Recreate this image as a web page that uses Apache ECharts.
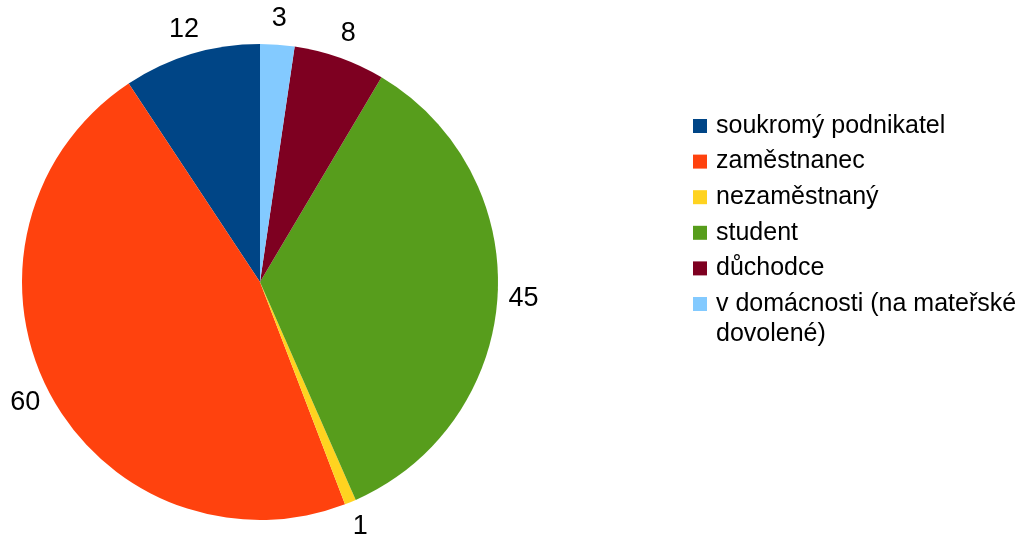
<!DOCTYPE html>
<html>
<head>
<meta charset="utf-8">
<script src="https://cdn.jsdelivr.net/npm/echarts@6/dist/echarts.min.js"></script>
<style>
  html, body { margin: 0; padding: 0; background: #fff; }
  #chart { width: 1033px; height: 540px; }
</style>
</head>
<body>
<div id="chart"></div>
<script>
var categories = ['soukromý podnikatel', 'zaměstnanec', 'nezaměstnaný', 'student', 'důchodce', 'v domácnosti (na mateřské dovolené)'];
var legendLabels = ['soukromý podnikatel', 'zaměstnanec', 'nezaměstnaný', 'student', 'důchodce', 'v domácnosti (na mateřské'];
var legendTail = 'dovolené)';
var values = [12, 60, 1, 45, 8, 3];
var colors = ['#004586', '#ff420e', '#ffd320', '#579d1c', '#7e0021', '#83caff'];

var fontFamily = 'Liberation Sans, Arial, sans-serif';

var data = categories.map(function (name, i) {
    return { name: name, value: values[i], itemStyle: { color: colors[i] } };
});
// same slices, invisible, only used to place the value labels just outside the pie
var labelData = categories.map(function (name, i) {
    return { name: name, value: values[i] };
});

var chart = echarts.init(document.getElementById('chart'));
chart.setOption({
    animation: false,
    textStyle: { fontFamily: fontFamily },
    legend: {
        orient: 'vertical',
        left: 688,
        top: 106,
        itemWidth: 14,
        itemHeight: 14,
        itemGap: 5.6,
        icon: 'rect',
        selectedMode: false,
        textStyle: { fontSize: 25, color: '#000', lineHeight: 30, padding: [0, 0, 0, 4], fontFamily: fontFamily },
        formatter: function (name) {
            return legendLabels[categories.indexOf(name)];
        },
        data: categories
    },
    graphic: [{
        type: 'text',
        left: 716,
        top: 322,
        style: { text: legendTail, fontSize: 25, fill: '#000', fontFamily: fontFamily }
    }],
    series: [{
        type: 'pie',
        center: [260, 282],
        radius: 238,
        startAngle: 90,
        clockwise: false,
        label: { show: false },
        labelLine: { show: false },
        emphasis: { disabled: true },
        data: data
    }, {
        type: 'pie',
        center: [260, 282],
        radius: [0, 522],
        startAngle: 90,
        clockwise: false,
        silent: true,
        itemStyle: { color: 'rgba(0,0,0,0)' },
        label: {
            show: true,
            position: 'inside',
            formatter: '{c}',
            fontSize: 27,
            color: '#000',
            fontFamily: fontFamily
        },
        labelLine: { show: false },
        emphasis: { disabled: true },
        data: labelData
    }]
});
</script>
</body>
</html>
